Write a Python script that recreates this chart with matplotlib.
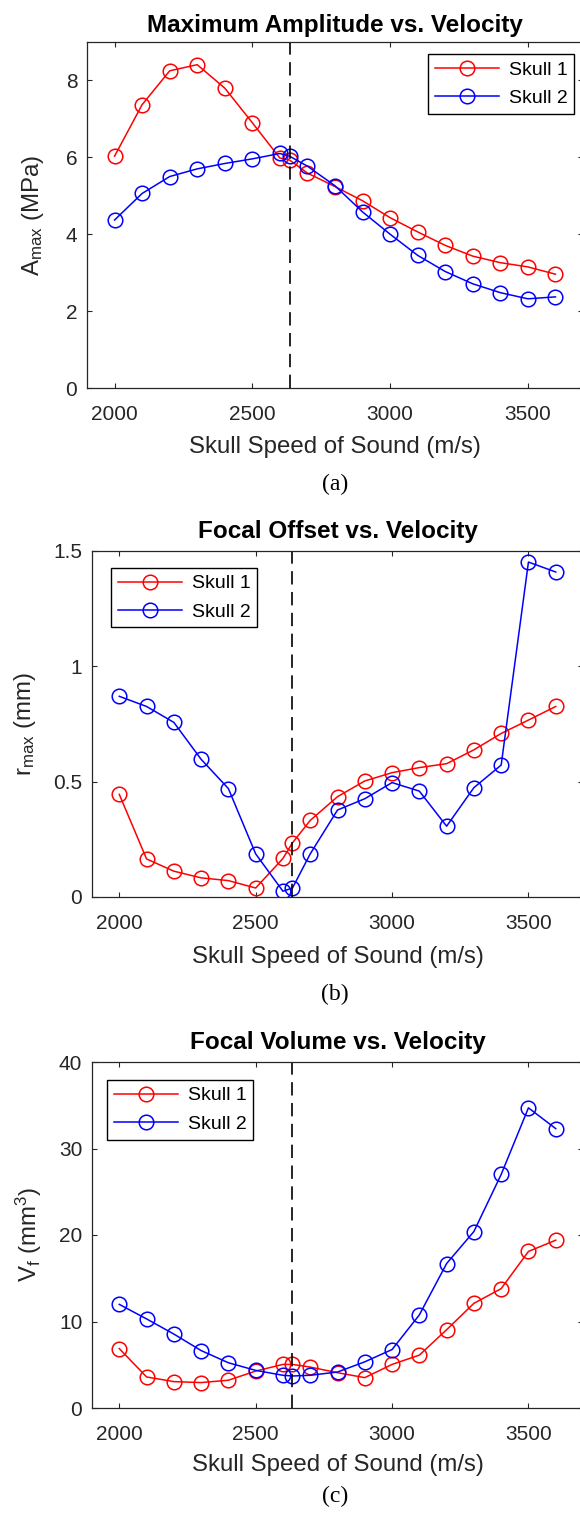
import matplotlib
matplotlib.use("Agg")
import matplotlib.pyplot as plt
from matplotlib.ticker import FuncFormatter

plt.rcParams["font.family"] = ["Liberation Sans", "DejaVu Sans"]
plt.rcParams["mathtext.fontset"] = "custom"
plt.rcParams["mathtext.rm"] = "Liberation Sans"
plt.rcParams["mathtext.default"] = "regular"

# skull speed of sound (m/s); 2635 is the reference speed
speed = [2000, 2100, 2200, 2300, 2400, 2500, 2600, 2635, 2700,
         2800, 2900, 3000, 3100, 3200, 3300, 3400, 3500, 3600]
ref_speed = 2635

# maximum amplitude (MPa)
amp_skull1 = [6.03, 7.37, 8.25, 8.41, 7.80, 6.90, 5.98, 5.93, 5.59,
              5.24, 4.87, 4.43, 4.06, 3.71, 3.43, 3.26, 3.15, 2.96]
amp_skull2 = [4.37, 5.06, 5.50, 5.70, 5.84, 5.96, 6.10, 6.03, 5.77,
              5.26, 4.58, 4.00, 3.45, 3.03, 2.71, 2.48, 2.32, 2.37]

# focal offset (mm)
off_skull1 = [0.445, 0.165, 0.112, 0.083, 0.071, 0.039, 0.167, 0.235, 0.332,
              0.435, 0.503, 0.539, 0.561, 0.578, 0.638, 0.709, 0.767, 0.826]
off_skull2 = [0.870, 0.826, 0.757, 0.597, 0.470, 0.187, 0.025, 0.039, 0.187,
              0.377, 0.426, 0.496, 0.459, 0.307, 0.474, 0.572, 1.452, 1.409]

# focal volume (mm^3)
vol_skull1 = [6.87, 3.59, 3.05, 2.94, 3.21, 4.27, 5.04, 5.04, 4.73,
              4.08, 3.51, 5.04, 6.11, 9.05, 12.1, 13.8, 18.1, 19.4]
vol_skull2 = [11.98, 10.3, 8.55, 6.64, 5.23, 4.35, 3.78, 3.70, 3.78,
              4.16, 5.34, 6.76, 10.76, 16.7, 20.4, 27.0, 34.7, 32.3]

W, H = 580, 1514
fig = plt.figure(figsize=(W / 100, H / 100), dpi=100)
txt = "#262626"


def make_axes(left, top, bottom):
    # axes box in pixels; the right edge runs just past the figure border
    return fig.add_axes([left / W, 1 - bottom / H, (583 - left) / W, (bottom - top) / H])


def panel(ax, y1, y2, title, ylabel, yticks, ylim, leg_anchor, caption, cap_y,
          title_pad, xlab_off, ylab_x):
    ax.plot(speed, y1, "-o", color="red", lw=1.1, ms=10.5, mfc="none", mew=1.1, label="Skull 1")
    ax.plot(speed, y2, "-o", color="blue", lw=1.1, ms=10.5, mfc="none", mew=1.1, label="Skull 2")
    ax.axvline(ref_speed, color="black", lw=1.2, linestyle=(0, (8, 4.5)))
    ax.set_xlim(1900, 3700)
    ax.set_ylim(*ylim)
    ax.set_xticks([2000, 2500, 3000, 3500])
    ax.set_yticks(yticks)
    ax.yaxis.set_major_formatter(FuncFormatter(lambda v, p: f"{v:g}"))
    ax.tick_params(direction="in", length=3.5, width=0.8, top=True, right=True,
                   labelsize=15, colors=txt)
    ax.tick_params(axis="x", pad=12.5)
    ax.tick_params(axis="y", pad=7)
    for s in ax.spines.values():
        s.set_color(txt)
        s.set_linewidth(0.9)
    ax.set_title(title, fontsize=17.5, fontweight="bold", pad=title_pad)

    h = ax.get_position().height * H
    ax.set_xlabel("Skull Speed of Sound (m/s)", fontsize=17.3, color=txt, va="center")
    ax.xaxis.set_label_coords(0.5, -xlab_off / h)
    ax.set_ylabel(ylabel, fontsize=17.3, color=txt, va="center")
    ax.yaxis.set_label_coords(ylab_x, 0.5)

    leg = ax.legend(loc="upper left", bbox_to_anchor=leg_anchor, borderaxespad=0,
                    fancybox=False, framealpha=1, edgecolor="black", fontsize=14,
                    handlelength=3.3, borderpad=0.35, labelspacing=0.55, handletextpad=0.5)
    leg.get_frame().set_linewidth(1.0)
    fig.text(335 / W, 1 - cap_y / H, caption, ha="center", va="center",
             family="Liberation Serif", fontsize=17)


ax_a = make_axes(87, 42, 388)
panel(ax_a, amp_skull1, amp_skull2, "Maximum Amplitude vs. Velocity",
      r"A$_{max}$ (MPa)", [0, 2, 4, 6, 8], (0, 9), (0.6875, 0.965), "(a)", 484,
      7.5, 59, -0.109)

ax_b = make_axes(92, 551, 897)
panel(ax_b, off_skull1, off_skull2, "Focal Offset vs. Velocity",
      r"r$_{max}$ (mm)", [0, 0.5, 1, 1.5], (0, 1.5), (0.039, 0.951), "(b)", 994,
      9.5, 60, -0.136)

ax_c = make_axes(92, 1062, 1408)
panel(ax_c, vol_skull1, vol_skull2, "Focal Volume vs. Velocity",
      r"V$_f$ (mm$^3$)", [0, 10, 20, 30, 40], (0, 40), (0.031, 0.948), "(c)", 1496,
      9.0, 57, -0.128)

fig.savefig("out.png", dpi=100)
